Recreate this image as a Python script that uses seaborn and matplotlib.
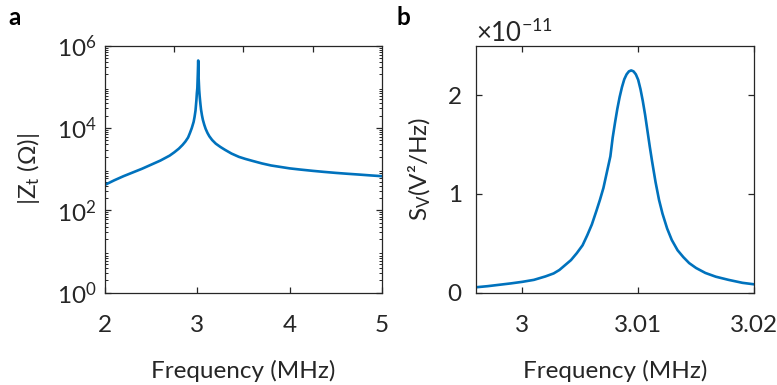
import numpy as np
import matplotlib
matplotlib.use("Agg")
import matplotlib.pyplot as plt
import matplotlib.ticker as mticker
import seaborn as sns

# ---------------- data ----------------
# panel a: impedance magnitude |Z_t| (ohm) vs frequency (MHz)
freq_a = [2.0, 2.1, 2.2, 2.3, 2.4, 2.5, 2.6, 2.65, 2.7, 2.75, 2.8, 2.84, 2.87,
          2.9, 2.92, 2.94, 2.96, 2.97, 2.98, 2.99, 2.995, 3.0, 3.005, 3.0095,
          3.014, 3.02, 3.025, 3.03, 3.035, 3.04, 3.05, 3.06, 3.075, 3.09, 3.11,
          3.13, 3.16, 3.2, 3.25, 3.3, 3.37, 3.45, 3.52, 3.6, 3.7, 3.8, 3.9, 4.0,
          4.12, 4.25, 4.37, 4.5, 4.62, 4.75, 4.87, 5.0]
z_ohm = [417, 537, 676, 832, 1023, 1288, 1622, 1862, 2138, 2570, 3162, 3890, 4677,
         5888, 7586, 10000, 14125, 18621, 26303, 47863, 70795, 93325, 195000, 437000,
         166000, 85114, 60256, 45709, 35481, 28184, 20417, 15849, 12023, 9550, 7586,
         6310, 5129, 4169, 3467, 2951, 2399, 1995, 1778, 1585, 1380, 1230, 1135, 1047,
         977, 912, 861, 813, 776, 741, 708, 676]

# panel b: voltage noise spectral density S_V (units of 1e-11 V^2/Hz)
freq_b = [2.996, 2.997, 2.998, 2.999, 3.000, 3.001, 3.002, 3.0027, 3.0032, 3.0037,
          3.0042, 3.0047, 3.0052, 3.0056, 3.0060, 3.0064, 3.0067, 3.0070, 3.0073,
          3.0076, 3.0078, 3.0080, 3.0082, 3.0084, 3.0086, 3.0088, 3.0090, 3.0092,
          3.0094, 3.0096, 3.0098, 3.0100, 3.0102, 3.0104, 3.0106, 3.0108, 3.0110,
          3.0112, 3.0115, 3.0118, 3.0121, 3.0125, 3.0129, 3.0134, 3.0139, 3.0144,
          3.0150, 3.0158, 3.0167, 3.0178, 3.0190, 3.0200]
sv_e11 = [0.055, 0.066, 0.080, 0.094, 0.11, 0.13, 0.165, 0.195, 0.23, 0.28,
          0.33, 0.40, 0.48, 0.58, 0.69, 0.83, 0.94, 1.06, 1.22,
          1.38, 1.57, 1.72, 1.86, 1.98, 2.08, 2.16, 2.21, 2.24,
          2.25, 2.24, 2.21, 2.155, 2.06, 1.94, 1.80, 1.64, 1.48,
          1.33, 1.12, 0.94, 0.80, 0.65, 0.534, 0.43, 0.36, 0.30,
          0.25, 0.20, 0.162, 0.13, 0.10, 0.085]
sv_scale = 1e-11

xticks_a = [2, 3, 4, 5]
yticks_a = [1e0, 1e2, 1e4, 1e6]
xticks_b = [3.0, 3.01, 3.02]
xticklabels_b = ["3", "3.01", "3.02"]
yticks_b = [0, 1e-11, 2e-11]

# ---------------- style ----------------
sns.set_style("white")
plt.rcParams["font.family"] = ["Lato", "DejaVu Sans"]
plt.rcParams["mathtext.fontset"] = "custom"
plt.rcParams["mathtext.rm"] = "Lato"
plt.rcParams["mathtext.it"] = "Lato:italic"
plt.rcParams["mathtext.bf"] = "Lato:bold"
plt.rcParams["axes.unicode_minus"] = False

TXT = "#262626"
LINE = "#0072BD"
FS = 17.5

fig = plt.figure(figsize=(7.77, 3.85), dpi=100)
ax_a = fig.add_axes([105 / 777, 1 - 292.7 / 385, 277 / 777, 247 / 385])
ax_b = fig.add_axes([476 / 777, 1 - 292.7 / 385, 278 / 777, 247 / 385])

for ax in (ax_a, ax_b):
    for s in ax.spines.values():
        s.set_color(TXT)
        s.set_linewidth(0.9)

# ---------------- panel a ----------------
sns.lineplot(x=freq_a, y=z_ohm, ax=ax_a, color=LINE, linewidth=1.9)
ax_a.set_yscale("log")
ax_a.set_xlim(2, 5)
ax_a.set_ylim(1e0, 1e6)
ax_a.set_xticks(xticks_a)
ax_a.set_yticks(yticks_a)
ax_a.yaxis.set_minor_locator(mticker.LogLocator(base=10, subs=np.arange(2, 10), numticks=20))
ax_a.yaxis.set_minor_formatter(mticker.NullFormatter())
ax_a.tick_params(axis="x", which="major", direction="in", length=4, width=0.9,
                 colors=TXT, labelsize=FS, pad=16, top=False, bottom=True)
ax_a.tick_params(axis="y", which="major", direction="in", length=4, width=0.9,
                 colors=TXT, labelsize=FS, pad=6, left=True, right=True)
ax_a.tick_params(axis="y", which="minor", direction="in", length=2.2, width=0.7,
                 colors=TXT, left=True, right=True)
sec = ax_a.secondary_xaxis("top")
sec.set_xticks([2.75, 3.5, 4.25])
sec.set_xticklabels([])
sec.tick_params(direction="in", length=4, width=0.9, colors=TXT)
sec.spines["top"].set_visible(False)
ax_a.set_xlabel("Frequency (MHz)", fontsize=FS, color=TXT, labelpad=17)
ax_a.set_ylabel(r"|Z$_{\mathrm{t}}$ (Ω)|", fontsize=FS, color=TXT, labelpad=11)

# ---------------- panel b ----------------
sv = [v * sv_scale for v in sv_e11]
sns.lineplot(x=freq_b, y=sv, ax=ax_b, color=LINE, linewidth=1.9)
ax_b.set_xlim(2.996, 3.02)
ax_b.set_ylim(0, 2.5e-11)
ax_b.set_xticks(xticks_b)
ax_b.set_xticklabels(xticklabels_b)
ax_b.set_yticks(yticks_b)
fmt = mticker.ScalarFormatter(useMathText=True)
fmt.set_powerlimits((-3, 3))
ax_b.yaxis.set_major_formatter(fmt)
ax_b.tick_params(axis="x", direction="in", length=4, width=0.9, colors=TXT,
                 labelsize=FS, pad=16, top=True, bottom=True)
ax_b.tick_params(axis="y", direction="in", length=4, width=0.9, colors=TXT,
                 labelsize=FS, pad=10, left=True, right=True)
ax_b.yaxis.get_offset_text().set_fontsize(FS + 1)
ax_b.yaxis.get_offset_text().set_color(TXT)
ax_b.set_xlabel("Frequency (MHz)", fontsize=FS, color=TXT, labelpad=17)
ax_b.set_ylabel(r"S$_{\mathrm{V}}$(V²/Hz)", fontsize=FS, color=TXT, labelpad=10)

# panel letters
fig.text(8 / 777, 1 - 25 / 385, "a", fontsize=FS, fontweight="bold", color="#000000")
fig.text(397 / 777, 1 - 25 / 385, "b", fontsize=FS, fontweight="bold", color="#000000")

fig.savefig("out.png", dpi=100)
